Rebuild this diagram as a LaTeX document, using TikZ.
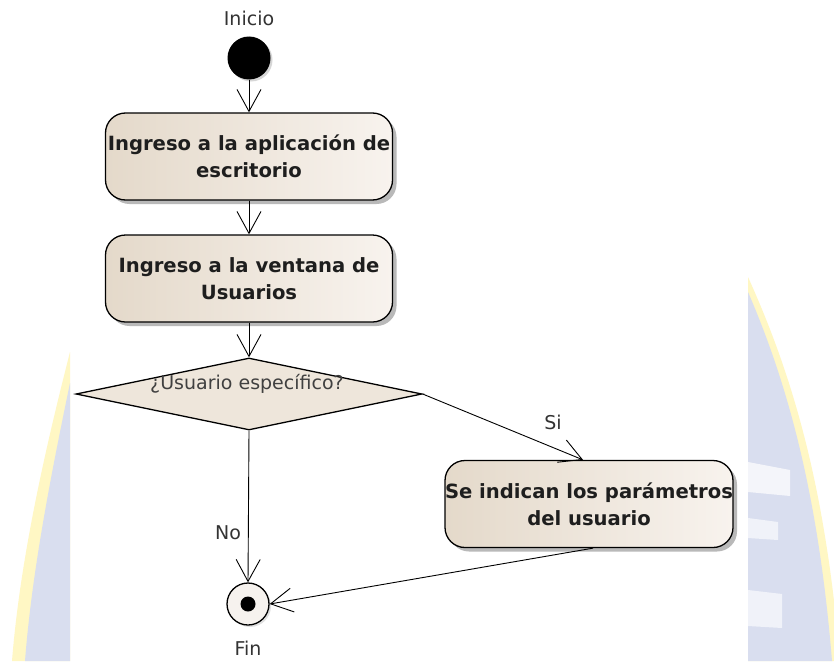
\documentclass[tikz,border=0pt]{standalone}
\usepackage{fontspec}
\setmainfont{DejaVu Sans}
\usetikzlibrary{arrows.meta,shapes.geometric,shadows}
\definecolor{boxL}{RGB}{228,217,202}
\definecolor{boxR}{RGB}{248,243,238}
\definecolor{diafill}{RGB}{238,230,219}
\definecolor{finfill}{RGB}{246,242,238}
\definecolor{wmblue}{RGB}{217,222,239}
\definecolor{wmyellow}{RGB}{255,247,196}
\definecolor{txt}{RGB}{30,30,30}
\begin{document}
\begin{tikzpicture}[x=1pt,y=-1pt,
  act/.style={draw=black, line width=1.3pt, rounded corners=20pt,
    left color=boxL, right color=boxR, minimum width=287pt, minimum height=87pt,
    align=center, inner sep=0pt, font=\fontsize{19.6}{27}\selectfont\bfseries, text=txt,
    drop shadow={shadow xshift=4pt, shadow yshift=-4pt, fill=black!50, opacity=0.55}},
  flow/.style={draw=black, line width=0.9pt,
    -{Straight Barb[length=22pt,width=24pt,line width=0.9pt]}},
  lbl/.style={font=\fontsize{19}{23}\selectfont, text=black!80, inner sep=0pt},
]
\useasboundingbox (0,0) rectangle (834,661);
\fill[white] (0,0) rectangle (834,661);
% watermark, left
\fill[wmyellow] (70,352) .. controls (45,450) and (20,560) .. (12,661) -- (70,661) -- cycle;
\fill[wmblue] (70,383) .. controls (52,470) and (32,570) .. (25,661) -- (70,661) -- cycle;
% watermark, right
\fill[wmyellow] (748,277) .. controls (790,370) and (825,480) .. (840,661) -- (748,661) -- cycle;
\fill[wmblue] (748,292) .. controls (786,380) and (818,490) .. (832,661) -- (748,661) -- cycle;
\fill[white!70!wmblue] (748,462) -- (790,470) -- (790,496) -- (748,492) -- cycle;
\fill[white!60!wmblue] (748,518) -- (778,522) -- (778,540) -- (748,538) -- cycle;
\fill[white!60!wmblue] (748,590) -- (782,594) -- (782,628) -- (748,626) -- cycle;

% nodes
\node[lbl] (inicio) at (249,18) {Inicio};
\node[circle, fill=black, minimum size=43pt, inner sep=0pt,
  drop shadow={shadow xshift=2pt, shadow yshift=-2pt, fill=black!40, opacity=0.4}] (start) at (249,58) {};
\node[act] (b1) at (249,156.5) {Ingreso a la aplicación de\\escritorio};
\node[act] (b2) at (249,278.5) {Ingreso a la ventana de\\Usuarios};
\node[diamond, draw=black, line width=1.3pt, fill=diafill, minimum width=346pt,
  minimum height=72pt, aspect=4.8, inner sep=0pt] (dia) at (249,394) {};
\node[lbl, text=black!75] (diatext) at (247,384) {¿Usuario específico?};
\node[act] (b3) at (589,504) {Se indican los parámetros\\del usuario};
\node[circle, draw=black, line width=1.3pt, fill=finfill, minimum size=42pt, inner sep=0pt,
  drop shadow={shadow xshift=2pt, shadow yshift=-2pt, fill=black!30, opacity=0.4}] (fin) at (248,604) {};
\node[circle, fill=black, minimum size=15pt, inner sep=0pt] (findot) at (fin.center) {};
\node[lbl] (fintext) at (248,648) {Fin};
\node[lbl] (no) at (228,533) {No};
\node[lbl] (si) at (553,422) {Si};

% connectors
\draw[flow] (start.south) -- (b1.north);
\draw[flow] (b1.south) -- (b2.north);
\draw[flow] (b2.south) -- (dia.north);
\draw[flow] (dia.east) -- ([xshift=-6pt]b3.north);
\draw[flow] (dia.south) -- (fin.north);
\draw[flow] ([xshift=4pt]b3.south) -- (fin.east);
\end{tikzpicture}
\end{document}
